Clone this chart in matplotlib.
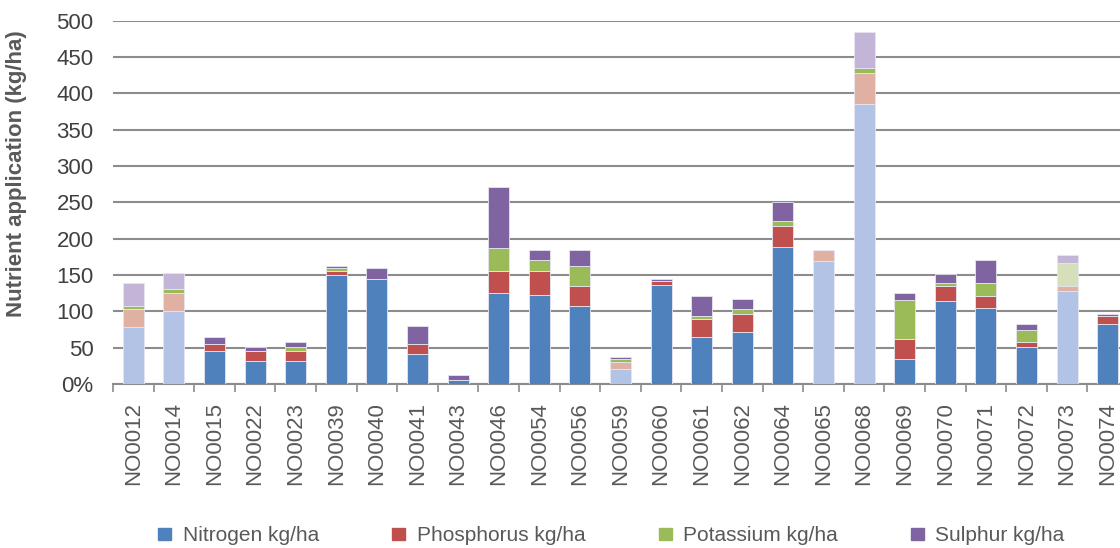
import numpy as np
import matplotlib.pyplot as plt
from matplotlib.patches import Patch

plt.rcParams["font.family"] = ["Liberation Sans", "DejaVu Sans"]

sites = ["NO0012", "NO0014", "NO0015", "NO0022", "NO0023", "NO0039", "NO0040",
         "NO0041", "NO0043", "NO0046", "NO0054", "NO0056", "NO0059", "NO0060",
         "NO0061", "NO0062", "NO0064", "NO0065", "NO0068", "NO0069", "NO0070",
         "NO0071", "NO0072", "NO0073", "NO0074"]

nitrogen = [78, 100, 45, 31, 31, 150, 145, 41, 6, 125, 122, 107, 20, 136,
            65, 72, 188, 169, 386, 34, 114, 104, 51, 128, 83]
phosphorus = [25, 25, 10, 14, 14, 6, 0, 14, 0, 31, 34, 28, 10, 6,
              25, 24, 30, 16, 42, 28, 21, 17, 7, 7, 10]
potassium = [4, 6, 0, 0, 6, 4, 0, 0, 0, 31, 14, 28, 4, 0,
             4, 7, 7, 0, 7, 53, 4, 18, 17, 31, 0]
sulphur = [32, 22, 10, 6, 7, 3, 14, 25, 7, 84, 15, 21, 3, 3,
           27, 14, 25, 0, 50, 10, 13, 31, 7, 11, 3]

series = [("Nitrogen kg/ha", nitrogen), ("Phosphorus kg/ha", phosphorus),
          ("Potassium kg/ha", potassium), ("Sulphur kg/ha", sulphur)]
colors = ["#4F81BD", "#C0504D", "#9BBB59", "#8064A2"]
light = ["#B3C3E5", "#E0B0A3", "#D5DFB9", "#C3B5D7"]

# which segments are shown faded (site -> series indices)
faded = {"NO0012": [0, 1, 3], "NO0014": [0, 1, 3], "NO0059": [0, 1],
         "NO0065": [0, 1], "NO0068": [0, 1, 3], "NO0073": [0, 1, 2, 3]}

fig = plt.figure(figsize=(11.2, 5.48), dpi=100)
ax = fig.add_axes([113 / 1120, 164 / 548, 1015 / 1120, 363.3 / 548])

x = np.arange(len(sites))
bottom = np.zeros(len(sites))
for k, (name, vals) in enumerate(series):
    vals = np.array(vals, dtype=float)
    cols = [light[k] if k in faded.get(s, []) else colors[k] for s in sites]
    ax.bar(x, vals, 0.52, bottom=bottom, color=cols, edgecolor="#E6E6F0",
           linewidth=0.6, zorder=3)
    bottom += vals

ax.set_xlim(-0.5, len(sites) - 0.5)
ax.set_ylim(0, 500)
ax.set_yticks(np.arange(0, 501, 50))
ax.set_yticklabels(["0%"] + [str(v) for v in range(50, 501, 50)])
ax.yaxis.grid(True, color="#8C8C8C", linewidth=1.5, zorder=0)
ax.tick_params(axis="y", length=0, labelsize=16, colors="#404040", pad=14)

ax.set_xticks(x)
ax.set_xticklabels(sites, rotation=90, fontsize=16, color="#595959")
ax.set_xticks(np.arange(-0.5, len(sites), 1), minor=True)
ax.tick_params(axis="x", which="major", length=0, pad=13)
ax.tick_params(axis="x", which="minor", length=6, color="#8C8C8C", width=1.2)

for sp in ["top", "right", "left"]:
    ax.spines[sp].set_visible(False)
ax.spines["bottom"].set_color("#8C8C8C")
ax.spines["bottom"].set_linewidth(1.5)

ax.set_ylabel("Nutrient application (kg/ha)", fontsize=16, fontweight="bold",
              color="#595959")
ax.yaxis.set_label_coords(-0.085, 0.578)

handles = [Patch(color=c, label=n) for c, (n, _) in zip(colors, series)]
fig.legend(handles=handles, loc="center", bbox_to_anchor=(0.546, 0.022), ncol=4,
           frameon=False, fontsize=15, handlelength=0.62, handleheight=0.55,
           columnspacing=3.52, handletextpad=0.55, labelcolor="#595959")

fig.savefig("out.png", dpi=100)
